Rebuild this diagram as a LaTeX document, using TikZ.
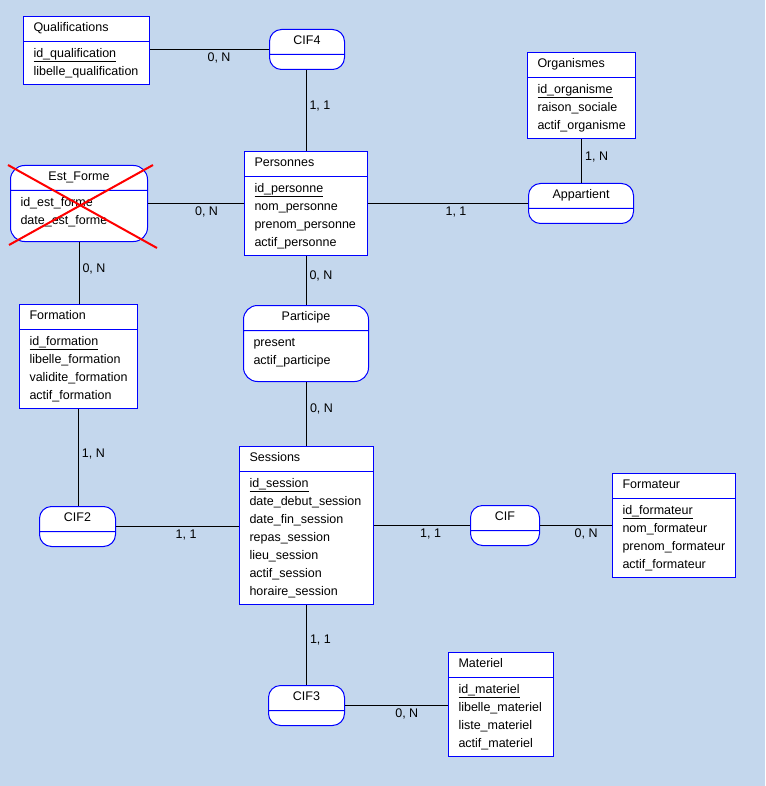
\documentclass[tikz,border=0pt]{standalone}
\usepackage{fontspec}
\setmainfont{Liberation Sans}
\usetikzlibrary{shapes.multipart}
\definecolor{fond}{RGB}{196,215,237}
\newcommand{\ident}[1]{\setbox0\hbox{#1}\rlap{\rule[-4.5pt]{\wd0}{0.8pt}}\box0}
\newcommand{\titre}{\rule[-6.4pt]{0pt}{18pt}}
\newcommand{\vide}{\rule[-8pt]{0pt}{8pt}}
\newcommand{\basassoc}{\rule[-13.4pt]{0pt}{13.4pt}}

\begin{document}
\begin{tikzpicture}[x=1pt,y=-1pt,
    every node/.style={font=\fontsize{12.5pt}{18pt}\selectfont},
    entite/.style={rectangle split, rectangle split parts=2, draw=blue, fill=white,
        line width=1pt, inner xsep=10pt, inner ysep=3pt, anchor=north west,
        rectangle split part align={left,left}},
    assoc/.style={entite, rounded corners=12pt, rectangle split part align={center,left}},
    card/.style={inner sep=3pt},
    lien/.style={line width=1pt},
    croix/.style={red, line width=2pt}]
    \fill[fond] (0,0) rectangle (765,786);

    \node[entite, minimum width=126pt] (qualifications) at (23,16) {Qualifications\titre
        \nodepart{two}\begin{tabular}{@{}l@{}}\ident{id\_qualification}\\ libelle\_qualification\end{tabular}};
    \node[assoc, minimum width=75pt] (cif4) at (269,29) {CIF4\titre\nodepart{two}\vide};
    \node[entite, minimum width=123pt] (personnes) at (244,151) {Personnes\titre
        \nodepart{two}\begin{tabular}{@{}l@{}}\ident{id\_personne}\\ nom\_personne\\ prenom\_personne\\ actif\_personne\end{tabular}};
    \node[assoc, rounded corners=14pt, minimum width=137pt] (estforme) at (10,165) {Est\_Forme\titre
        \nodepart{two}\begin{tabular}{@{}l@{}}id\_est\_forme\\ date\_est\_forme\basassoc\end{tabular}};
    \node[entite, minimum width=108pt] (organismes) at (527,52) {Organismes\titre
        \nodepart{two}\begin{tabular}{@{}l@{}}\ident{id\_organisme}\\ raison\_sociale\\ actif\_organisme\end{tabular}};
    \node[assoc, minimum width=105pt] (appartient) at (528,183) {Appartient\titre\nodepart{two}\vide};
    \node[entite, minimum width=117pt] (formation) at (19,304) {Formation\titre
        \nodepart{two}\begin{tabular}{@{}l@{}}\ident{id\_formation}\\ libelle\_formation\\ validite\_formation\\ actif\_formation\end{tabular}};
    \node[assoc, rounded corners=14pt, minimum width=125pt] (participe) at (243,305) {Participe\titre
        \nodepart{two}\begin{tabular}{@{}l@{}}present\\ actif\_participe\basassoc\end{tabular}};
    \node[entite, minimum width=134pt] (sessions) at (239,446) {Sessions\titre
        \nodepart{two}\begin{tabular}{@{}l@{}}\ident{id\_session}\\ date\_debut\_session\\ date\_fin\_session\\ repas\_session\\ lieu\_session\\ actif\_session\\ horaire\_session\end{tabular}};
    \node[assoc, minimum width=76pt] (cif2) at (39,506) {CIF2\titre\nodepart{two}\vide};
    \node[assoc, minimum width=69pt] (cif) at (470,505) {CIF\titre\nodepart{two}\vide};
    \node[entite, minimum width=123pt] (formateur) at (612,473) {Formateur\titre
        \nodepart{two}\begin{tabular}{@{}l@{}}\ident{id\_formateur}\\ nom\_formateur\\ prenom\_formateur\\ actif\_formateur\end{tabular}};
    \node[assoc, minimum width=76pt] (cif3) at (268,685) {CIF3\titre\nodepart{two}\vide};
    \node[entite, minimum width=105pt] (materiel) at (448,652) {Materiel\titre
        \nodepart{two}\begin{tabular}{@{}l@{}}\ident{id\_materiel}\\ libelle\_materiel\\ liste\_materiel\\ actif\_materiel\end{tabular}};

    \draw[lien] (cif4.west -| qualifications.east) -- node[card, anchor=north, pos=.58] (c1) {0, N} (cif4.west);
    \draw[lien] (cif4.south -| personnes.north) -- node[card, anchor=west, pos=.44] (c2) {1, 1} (personnes.north);
    \draw[lien] (estforme.east) -- node[card, anchor=north, pos=.61] (c3) {0, N} (estforme.east -| personnes.west);
    \draw[lien] (appartient.west -| personnes.east) -- node[card, anchor=north, pos=.55] (c4) {1, 1} (appartient.west);
    \draw[lien] (organismes.south) -- node[card, anchor=west, pos=.4] (c5) {1, N} (organismes.south |- appartient.north);
    \draw[lien] (estforme.south) -- node[card, anchor=west, pos=.43] (c6) {0, N} (estforme.south |- formation.north);
    \draw[lien] (personnes.south) -- node[card, anchor=west, pos=.4] (c7) {0, N} (personnes.south |- participe.north);
    \draw[lien] (participe.south -| sessions.north) -- node[card, anchor=west, pos=.42] (c8) {0, N} (sessions.north);
    \draw[lien] (formation.south) -- node[card, anchor=west, pos=.46] (c9) {1, N} (formation.south |- cif2.north);
    \draw[lien] (cif2.east) -- node[card, anchor=north, pos=.57] (c10) {1, 1} (cif2.east -| sessions.west);
    \draw[lien] (cif.west -| sessions.east) -- node[card, anchor=north, pos=.59] (c11) {1, 1} (cif.west);
    \draw[lien] (cif.east) -- node[card, anchor=north, pos=.64] (c12) {0, N} (cif.east -| formateur.west);
    \draw[lien] (sessions.south) -- node[card, anchor=west, pos=.44] (c13) {1, 1} (sessions.south |- cif3.north);
    \draw[lien] (cif3.east) -- node[card, anchor=north, pos=.6] (c14) {0, N} (cif3.east -| materiel.west);

    \draw[croix] ([xshift=-2pt]estforme.north west) -- ([shift={(9,6)}]estforme.south east);
    \draw[croix] ([xshift=5pt]estforme.north east) -- ([shift={(-1,3)}]estforme.south west);
\end{tikzpicture}
\end{document}
